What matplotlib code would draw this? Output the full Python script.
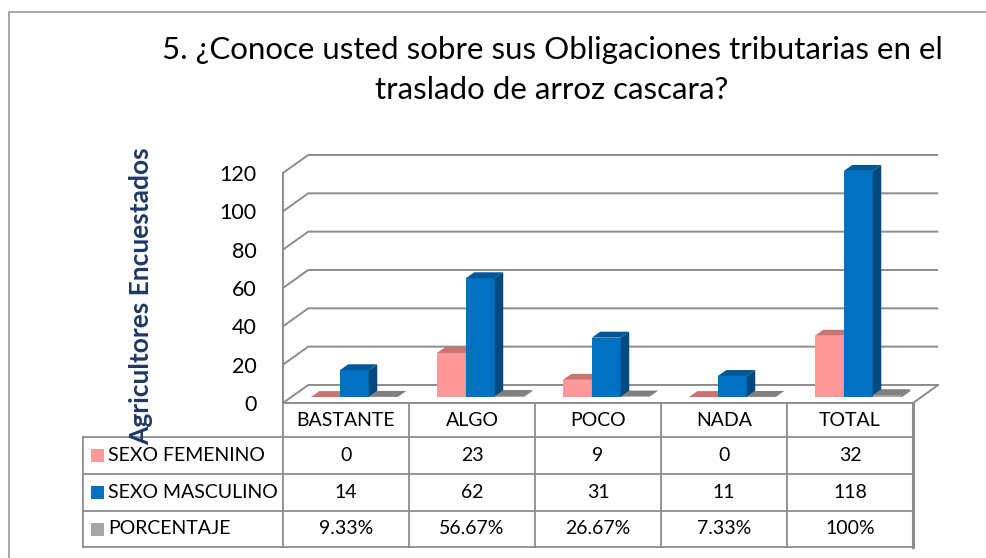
import matplotlib
matplotlib.use('Agg')
import matplotlib.pyplot as plt
from matplotlib.patches import Polygon, Rectangle

plt.rcParams['font.family'] = ['Lato', 'DejaVu Sans']

titulo = '5. ¿Conoce usted sobre sus Obligaciones tributarias en el\ntraslado de arroz cascara?'
categorias = ['BASTANTE', 'ALGO', 'POCO', 'NADA', 'TOTAL']
series = ['SEXO FEMENINO', 'SEXO MASCULINO', 'PORCENTAJE']
femenino = [0, 23, 9, 0, 32]
masculino = [14, 62, 31, 11, 118]
porcentaje = [0.0933, 0.5667, 0.2667, 0.0733, 1.0]
etiquetas_pct = ['9.33%', '56.67%', '26.67%', '7.33%', '100%']
yticks = [0, 20, 40, 60, 80, 100, 120]

# colores: (frente, arriba, lado)
colores = [('#FF9999', '#C97373', '#B86060'),
           ('#0070C0', '#00589A', '#004A80'),
           ('#A6A6A6', '#7F7F7F', '#6E6E6E')]
leyenda = ['#FF9999', '#0070C0', '#A6A6A6']
gris = '#8C8C8C'

W, H = 987, 558
fig = plt.figure(figsize=(W / 100, H / 100), dpi=100)


def fx(x):
    return x / W


def fy(y):
    return 1 - y / H


# marco exterior
fig.patches.append(Rectangle((fx(9), fy(H + 5)), fx(W + 5), fy(12) - fy(H + 5),
                             transform=fig.transFigure, fill=False,
                             edgecolor='#A0A0A0', lw=1.3))

fig.text(fx(552), fy(70), titulo, ha='center', va='center', fontsize=22.5,
         linespacing=1.5, color='black')

# ejes en la cara frontal del grafico 3D
left, right, top, bottom = 283, 913, 173, 403
ax = fig.add_axes([fx(left), fy(bottom), fx(right - left), fy(top) - fy(bottom)])
ax.set_xlim(-0.5, 4.5)
ax.set_ylim(0, 120)
ax.patch.set_visible(False)
for s in ax.spines.values():
    s.set_visible(False)
ax.set_xticks([])
ax.set_yticks(yticks)
ax.tick_params(axis='y', length=0, pad=19, labelsize=15.5)

DX, DY = 0.2, 9.4          # profundidad del piso / pared
bw = 0.23                  # ancho de barra
bdx, bdy = 0.067, 3.1      # profundidad de barra
sx, sy = 0.066, 3.1        # desplazamiento de barras hacia el fondo

# paredes y piso
for v in yticks:
    ax.plot([-0.5, -0.5 + DX, 4.5 + DX], [v, v + DY, v + DY], color=gris,
            lw=1.4, clip_on=False, zorder=1, solid_capstyle='butt')
ax.plot([-0.5, -0.5], [0, 120], color=gris, lw=1.4, clip_on=False, zorder=1)
ax.plot([-0.5, 4.5, 4.5 + DX], [0, 0, DY], color=gris, lw=1.4, clip_on=False, zorder=1)

valores = [femenino, masculino, porcentaje]
z = 2
for i in range(len(categorias)):
    for k in range(3):
        v = valores[k][i]
        x0 = i - 1.5 * bw + k * bw + sx
        x1 = x0 + bw
        y0 = sy
        y1 = sy + v
        front, topc, side = colores[k]
        if v >= 0.5:
            ax.add_patch(Polygon([(x0, y0), (x1, y0), (x1, y1), (x0, y1)],
                                 closed=True, facecolor=front, edgecolor='none',
                                 clip_on=False, zorder=z))
            ax.add_patch(Polygon([(x1, y0), (x1 + bdx, y0 + bdy), (x1 + bdx, y1 + bdy), (x1, y1)],
                                 closed=True, facecolor=side, edgecolor='none',
                                 clip_on=False, zorder=z))
        ax.add_patch(Polygon([(x0, y1), (x1, y1), (x1 + bdx, y1 + bdy), (x0 + bdx, y1 + bdy)],
                             closed=True, facecolor=topc, edgecolor='none',
                             clip_on=False, zorder=z))
        z += 1

fig.text(fx(141), fy(296), 'Agricultores Encuestados', rotation=90, ha='center',
         va='center', fontsize=19, fontweight='bold', color='#1F3864', zorder=5)

# tabla de datos
col_w = (right - left) / len(categorias)
filas = [403, 437, 474, 511, 547]
tabla_left = 83


def hline(y, x0, x1, lw=1.3):
    fig.add_artist(plt.Line2D([fx(x0), fx(x1)], [fy(y), fy(y)], color=gris, lw=lw))


def vline(x, y0, y1, lw=1.3):
    fig.add_artist(plt.Line2D([fx(x), fx(x)], [fy(y0), fy(y1)], color=gris, lw=lw))


for r in filas[1:]:
    hline(r, tabla_left, right)
for j in range(len(categorias)):
    vline(left + j * col_w, filas[0], filas[-1])
vline(right, filas[0], filas[-1], lw=2.2)
vline(tabla_left, filas[1], filas[-1])

fs = 14
for j, c in enumerate(categorias):
    cx = left + (j + 0.5) * col_w
    fig.text(fx(cx), fy((filas[0] + filas[1]) / 2), c, ha='center', va='center', fontsize=fs)

textos = [[str(v) for v in femenino], [str(v) for v in masculino], etiquetas_pct]
for k, nombre in enumerate(series):
    cy = (filas[k + 1] + filas[k + 2]) / 2
    fig.patches.append(Rectangle((fx(91), fy(cy + 6.5)), fx(13), fy(cy - 6.5) - fy(cy + 6.5),
                                 transform=fig.transFigure, facecolor=leyenda[k],
                                 edgecolor='none'))
    fig.text(fx(108), fy(cy), nombre, ha='left', va='center', fontsize=fs)
    for j in range(len(categorias)):
        cx = left + (j + 0.5) * col_w
        fig.text(fx(cx), fy(cy), textos[k][j], ha='center', va='center', fontsize=fs)

fig.savefig('out.png', dpi=100)
